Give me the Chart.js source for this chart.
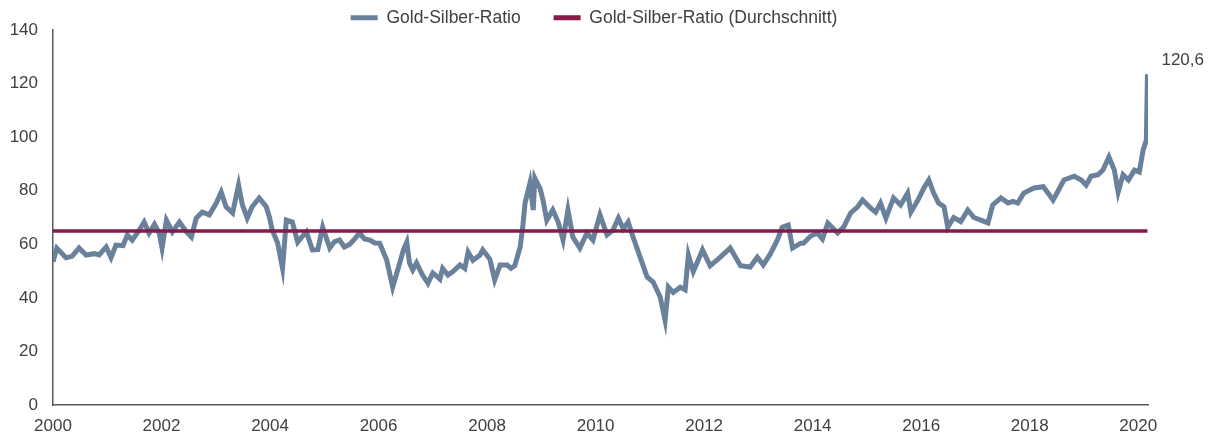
<!DOCTYPE html>
<html lang="de">
<head>
    <meta charset="UTF-8">
    <title>Gold-Silber-Ratio</title>
    <script src="https://cdn.jsdelivr.net/npm/chart.js"></script>
    <style>
        body { margin: 0; background: #fff; }
    </style>
</head>
<body>
    <canvas id="ratioChart" width="1210" height="436"></canvas>

    <script>
        const years = [
            2000.0, 2000.07, 2000.24, 2000.35, 2000.48, 2000.61, 2000.76, 2000.85, 2000.98,
            2001.07, 2001.16, 2001.29, 2001.37, 2001.46, 2001.59, 2001.68, 2001.77, 2001.87, 2001.96,
            2002.01, 2002.09, 2002.2, 2002.33, 2002.46, 2002.55, 2002.64, 2002.75, 2002.88,
            2003.01, 2003.1, 2003.19, 2003.31, 2003.42, 2003.49, 2003.58, 2003.67, 2003.8, 2003.93, 2003.99,
            2004.04, 2004.14, 2004.23, 2004.3, 2004.41, 2004.51, 2004.6, 2004.67, 2004.78, 2004.88, 2004.97,
            2005.1, 2005.19, 2005.28, 2005.37, 2005.47, 2005.56, 2005.65, 2005.74, 2005.84, 2005.93,
            2006.02, 2006.15, 2006.26, 2006.39, 2006.46, 2006.52, 2006.57, 2006.63, 2006.7, 2006.81, 2006.91,
            2007.0, 2007.13, 2007.18, 2007.28, 2007.37, 2007.5, 2007.59, 2007.65, 2007.74, 2007.87, 2007.92,
            2008.05, 2008.14, 2008.24, 2008.37, 2008.44, 2008.51, 2008.61, 2008.66, 2008.7, 2008.79, 2008.85, 2008.88, 2008.98,
            2009.03, 2009.1, 2009.21, 2009.31, 2009.4, 2009.49, 2009.58, 2009.71, 2009.84, 2009.95,
            2010.08, 2010.21, 2010.32, 2010.42, 2010.51, 2010.6, 2010.69, 2010.82, 2010.95,
            2011.06, 2011.19, 2011.28, 2011.34, 2011.43, 2011.56, 2011.65, 2011.71, 2011.8, 2011.97,
            2012.11, 2012.3, 2012.48, 2012.67, 2012.85, 2012.98,
            2013.09, 2013.22, 2013.35, 2013.44, 2013.55, 2013.63, 2013.78, 2013.83, 2013.96,
            2014.09, 2014.18, 2014.28, 2014.46, 2014.57, 2014.7, 2014.83, 2014.92,
            2015.07, 2015.16, 2015.25, 2015.35, 2015.49, 2015.62, 2015.75, 2015.81, 2015.94,
            2016.05, 2016.14, 2016.23, 2016.32, 2016.42, 2016.49, 2016.6, 2016.73, 2016.86, 2016.97,
            2017.1, 2017.23, 2017.32, 2017.47, 2017.6, 2017.69, 2017.78, 2017.89,
            2018.08, 2018.25, 2018.34, 2018.43, 2018.52, 2018.63, 2018.82, 2018.95,
            2019.04, 2019.13, 2019.26, 2019.35, 2019.46, 2019.56, 2019.63, 2019.72, 2019.82, 2019.93,
            2020.02, 2020.09, 2020.15, 2020.17
        ];
        const ratio = [
            53.5, 58.6, 55, 55.5, 58.6, 56, 56.5, 56, 59,
            55, 59.7, 59.5, 63.5, 61.6, 65.3, 68.3, 64.2, 67.5, 64,
            58.6, 69, 64.6, 68.3, 64.6, 62.7, 69.8, 72, 71,
            75.4, 79.5, 74, 71.7, 82.1, 74.7, 69.8, 74, 77.3, 74, 70,
            65.3, 60.5, 51.1, 69, 68.3, 60.8, 63, 64.6, 57.9, 58, 66.4,
            58.6, 61, 61.6, 59, 60, 62, 64.2, 62, 61.6, 60.5,
            60.4, 54.1, 44, 53, 58, 60.8, 53, 50.4, 53, 48.5, 45.5,
            49.3, 47, 51, 48.5, 49.8, 52.3, 51, 57.1, 54, 56, 57.9,
            54.5, 46.7, 52.3, 52.3, 51, 52, 59, 67.2, 75.4, 82.9, 72.8, 84.7, 80.6,
            76.5, 69, 72.8, 68.3, 61.6, 72.8, 62.7, 58.6, 64.2, 61.6,
            71, 63.5, 65.3, 69.8, 65.7, 68.3, 62.7, 55.2, 47.8,
            45.9, 40.3, 31.7, 44, 42, 44, 43, 56, 49.8, 57.9,
            52, 55.2, 58.6, 52, 51.5, 55.2,
            52.3, 56.4, 61.6, 66.4, 67.2, 58.6, 60.4, 60.4, 63,
            64.2, 62, 67.9, 64.2, 66.4, 71.7, 74, 76.5,
            73.5, 72, 75.4, 69.8, 77.3, 74.7, 79.1, 72, 76.5,
            81, 84, 79.1, 75.4, 74, 66.4, 70, 68.5, 72.8, 70,
            69, 68, 74.7, 77.3, 75.4, 76, 75.4, 79.1,
            81, 81.5, 79.1, 76.5, 79.8, 84, 85.4, 84,
            82.1, 85.4, 86, 87.7, 92.6, 87.7, 79.5, 86, 84, 87.7,
            87, 95.2, 98.9, 123.5
        ];
        const avgRatio = 65;
        const lastValueLabel = '120,6';
        const seriesNames = ['Gold-Silber-Ratio', 'Gold-Silber-Ratio (Durchschnitt)'];
        const xTickYears = [2000, 2002, 2004, 2006, 2008, 2010, 2012, 2014, 2016, 2018, 2020];

        const textColor = '#404040';
        const fontFamily = '"Liberation Sans", Arial, sans-serif';

        // Beschriftung am letzten Punkt
        const lastLabelPlugin = {
            id: 'lastLabel',
            afterDatasetsDraw(chart) {
                const meta = chart.getDatasetMeta(0);
                const pt = meta.data[meta.data.length - 1];
                const ctx = chart.ctx;
                ctx.save();
                ctx.font = '17px ' + fontFamily;
                ctx.fillStyle = textColor;
                ctx.textBaseline = 'middle';
                ctx.textAlign = 'left';
                ctx.fillText(lastValueLabel, pt.x + 14, pt.y - 14);
                ctx.restore();
            }
        };

        // Legende: feste Hoehe, Zeile etwas hoeher und nach rechts
        const legendPlacement = {
            id: 'legendPlacement',
            beforeLayout(chart) {
                const lg = chart.legend;
                if (lg && !lg._fixedFit) {
                    const fit = lg.fit.bind(lg);
                    lg.fit = function () { fit(); this.height = 30; };
                    lg._fixedFit = true;
                }
            },
            afterLayout(chart) {
                const lg = chart.legend;
                lg.top -= 24;
                lg.height = lg.bottom - lg.top;
                lg.left += 20;
                lg.right += 20;
            }
        };

        const ctx = document.getElementById('ratioChart').getContext('2d');
        new Chart(ctx, {
            type: 'line',
            data: {
                datasets: [{
                    label: seriesNames[0],
                    data: years.map((x, i) => ({ x: x, y: ratio[i] })),
                    borderColor: '#69819a',
                    backgroundColor: '#69819a',
                    borderWidth: 5,
                    pointRadius: 0,
                    tension: 0,
                    order: 2
                }, {
                    label: seriesNames[1],
                    data: [{ x: years[0], y: avgRatio }, { x: years[years.length - 1], y: avgRatio }],
                    borderColor: '#861a4b',
                    backgroundColor: '#861a4b',
                    borderWidth: 3.5,
                    pointRadius: 0,
                    order: 1
                }]
            },
            options: {
                responsive: false,
                animation: false,
                layout: { padding: { left: 0, right: 62, top: 0, bottom: 0 } },
                scales: {
                    x: {
                        type: 'linear',
                        min: 2000,
                        max: 2020.18,
                        grid: { display: false, drawTicks: false },
                        border: { color: '#595959', width: 1.5 },
                        afterBuildTicks(scale) {
                            scale.ticks = xTickYears.map(v => ({ value: v }));
                        },
                        ticks: {
                            padding: 11,
                            autoSkip: false,
                            maxRotation: 0,
                            color: textColor,
                            font: { family: fontFamily, size: 17 },
                            callback: v => String(v)
                        },
                        afterFit(scale) { scale.height = 31; }
                    },
                    y: {
                        min: 0,
                        max: 140,
                        grid: { display: false, drawTicks: false },
                        border: { color: '#595959', width: 1.5 },
                        ticks: {
                            stepSize: 20,
                            padding: 15,
                            color: textColor,
                            font: { family: fontFamily, size: 17 }
                        },
                        afterFit(scale) { scale.width = 53; }
                    }
                },
                plugins: {
                    tooltip: { enabled: false },
                    legend: {
                        position: 'top',
                        labels: {
                            color: textColor,
                            font: { family: fontFamily, size: 17.5 },
                            boxWidth: 27,
                            boxHeight: 5,
                            padding: 33,
                            generateLabels(chart) {
                                return chart.data.datasets.map((ds, i) => ({
                                    text: ds.label,
                                    fillStyle: ds.borderColor,
                                    strokeStyle: ds.borderColor,
                                    lineWidth: 0,
                                    fontColor: textColor,
                                    hidden: false,
                                    datasetIndex: i
                                }));
                            }
                        }
                    }
                }
            },
            plugins: [lastLabelPlugin, legendPlacement]
        });
    </script>
</body>
</html>
